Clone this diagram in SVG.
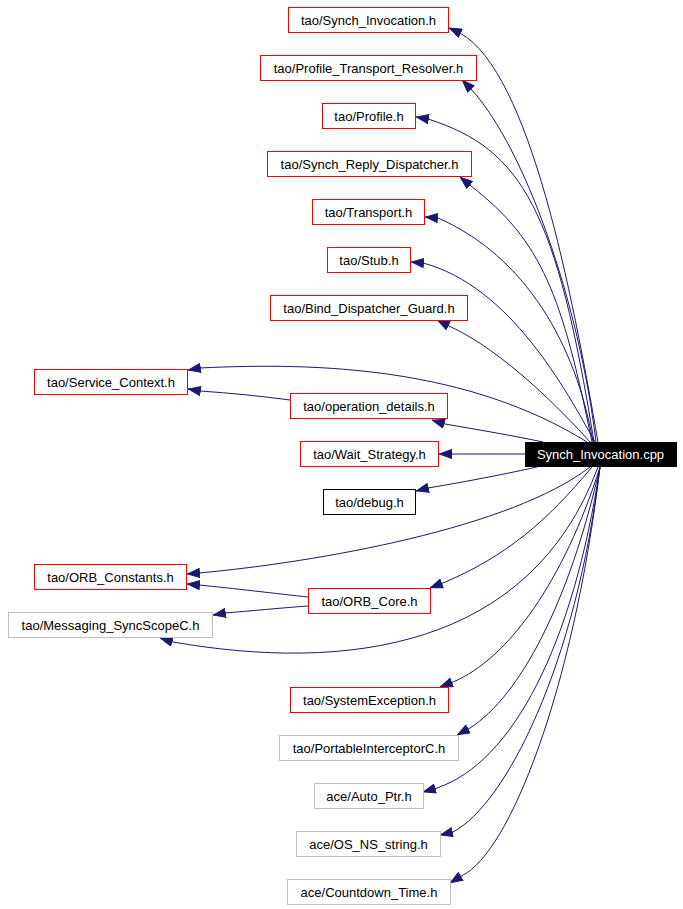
<svg xmlns="http://www.w3.org/2000/svg" width="683" height="909" viewBox="0 0 683 909">
<defs>
<style>
.n rect{fill:#ffffff;stroke-width:1}
.r rect{stroke:#ff0000}
.g rect{stroke:#bfbfbf}
.k rect{stroke:#000000}
.n text{font-family:"Liberation Sans",Arial,Helvetica,sans-serif;font-size:13px;text-anchor:middle;fill:#000000}
#edges path{fill:none;stroke:#191970;stroke-width:1;marker-end:url(#ah)}
</style>
<marker id="ah" markerUnits="userSpaceOnUse" viewBox="0 0 13 10" markerWidth="13" markerHeight="10" refX="13" refY="5" orient="auto">
<path d="M0.5,0.5 L12.5,5 L0.5,9.5 z" fill="#191970" stroke="#191970" stroke-width="1"/>
</marker>
</defs>
<rect width="683" height="909" fill="#ffffff"/>
<g id="edges">
<path d="M598,442 C572,292 530,72 460,33 L449,28"/>
<path d="M596,442 C579,302 525,148 471,89 L462,80"/>
<path d="M594,442 C557,212 523,149 428,119 L416,117"/>
<path d="M592,442 C562,295 542,241 471,186 L460,177"/>
<path d="M593,442 C576,344 525,256 438,218 L425,217"/>
<path d="M595,442 C566,390 510,286 423,263 L411,262"/>
<path d="M590,442 C563,412 504,351 449,326 L437,320"/>
<path d="M587,442 C468,368 320,362 200,368 L188,370"/>
<path d="M543,442 C515,436 480,430 445,424 L432,420"/>
<path d="M525,454 L439,454"/>
<path d="M537,467 C510,473 470,481 428,488 L416,491"/>
<path d="M590,467 C511,528 319,562 199,573 L187,574"/>
<path d="M592,467 C547,521 507,556 443,583 L430,588"/>
<path d="M598,467 C530,650 345,672 173,642 L160,638"/>
<path d="M600,467 C564,581 508,659 453,682 L440,687"/>
<path d="M600,467 C569,603 520,696 470,728 L457,735"/>
<path d="M600,467 C573,645 513,762 437,788 L423,792"/>
<path d="M600,467 C576,665 506,804 453,832 L440,835"/>
<path d="M600,467 C573,695 508,853 463,875 L450,883"/>
<path d="M290,400 C260,396 230,393 200,391 L188,389"/>
<path d="M308,597 C280,594 230,588 199,585 L187,584"/>
<path d="M308,606 C280,608 250,611 225,613 L213,615"/>
</g>
<g id="n_synch_invocation_h" class="n r"><rect x="288.5" y="7.5" width="160" height="25"/><text x="368.5" y="24.5">tao/Synch_Invocation.h</text></g>
<g id="n_profile_transport_resolver_h" class="n r"><rect x="260.5" y="55.5" width="216" height="25"/><text x="368.5" y="72.5">tao/Profile_Transport_Resolver.h</text></g>
<g id="n_profile_h" class="n r"><rect x="322.5" y="103.5" width="93" height="25"/><text x="369" y="120.5">tao/Profile.h</text></g>
<g id="n_synch_reply_dispatcher_h" class="n r"><rect x="267.5" y="151.5" width="204" height="25"/><text x="369.5" y="168.5">tao/Synch_Reply_Dispatcher.h</text></g>
<g id="n_transport_h" class="n r"><rect x="312.5" y="199.5" width="112" height="25"/><text x="368.5" y="216.5">tao/Transport.h</text></g>
<g id="n_stub_h" class="n r"><rect x="327.5" y="247.5" width="83" height="25"/><text x="369" y="264.5">tao/Stub.h</text></g>
<g id="n_bind_dispatcher_guard_h" class="n r"><rect x="270.5" y="295.5" width="197" height="25"/><text x="369" y="312.5">tao/Bind_Dispatcher_Guard.h</text></g>
<g id="n_service_context_h" class="n r"><rect x="34.5" y="369.5" width="153" height="25"/><text x="111" y="386.5">tao/Service_Context.h</text></g>
<g id="n_operation_details_h" class="n r"><rect x="290.5" y="393.5" width="157" height="25"/><text x="369" y="410.5">tao/operation_details.h</text></g>
<g id="n_wait_strategy_h" class="n r"><rect x="300.5" y="441.5" width="138" height="25"/><text x="369.5" y="458.5">tao/Wait_Strategy.h</text></g>
<g id="n_synch_invocation_cpp"><rect x="525" y="442" width="152" height="25" fill="#000000"/><text x="600.5" y="459" style="font-family:'Liberation Sans',Arial,Helvetica,sans-serif;font-size:13px;text-anchor:middle;fill:#ffffff">Synch_Invocation.cpp</text></g>
<g id="n_debug_h" class="n k"><rect x="323.5" y="489.5" width="92" height="25"/><text x="369.5" y="506.5">tao/debug.h</text></g>
<g id="n_orb_constants_h" class="n r"><rect x="34.5" y="564.5" width="152" height="25"/><text x="110.5" y="581.5">tao/ORB_Constants.h</text></g>
<g id="n_orb_core_h" class="n r"><rect x="308.5" y="588.5" width="122" height="25"/><text x="369.5" y="605.5">tao/ORB_Core.h</text></g>
<g id="n_messaging_syncscopec_h" class="n g"><rect x="8.5" y="612.5" width="204" height="25"/><text x="110.5" y="629.5">tao/Messaging_SyncScopeC.h</text></g>
<g id="n_systemexception_h" class="n r"><rect x="290.5" y="687.5" width="158" height="25"/><text x="369.5" y="704.5">tao/SystemException.h</text></g>
<g id="n_portableinterceptorc_h" class="n g"><rect x="279.5" y="735.5" width="179" height="25"/><text x="369" y="752.5">tao/PortableInterceptorC.h</text></g>
<g id="n_auto_ptr_h" class="n g"><rect x="314.5" y="783.5" width="109" height="25"/><text x="369" y="800.5">ace/Auto_Ptr.h</text></g>
<g id="n_os_ns_string_h" class="n g"><rect x="296.5" y="831.5" width="144" height="25"/><text x="368.5" y="848.5">ace/OS_NS_string.h</text></g>
<g id="n_countdown_time_h" class="n g"><rect x="287.5" y="879.5" width="163" height="25"/><text x="369" y="896.5">ace/Countdown_Time.h</text></g>
</svg>
